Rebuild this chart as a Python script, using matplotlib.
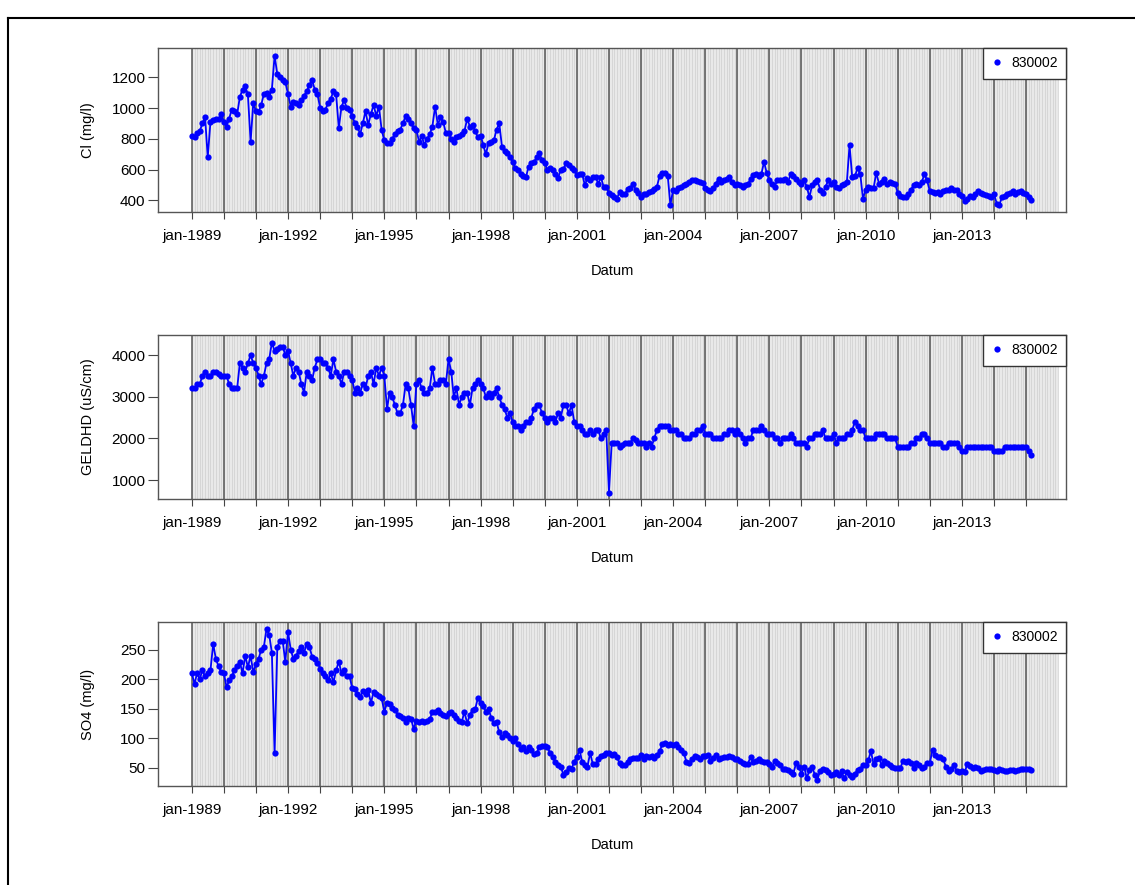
import pandas as pd
import matplotlib
matplotlib.use("Agg")
import matplotlib.pyplot as plt
import matplotlib.dates as mdates
from matplotlib.lines import Line2D

plt.rcParams["font.family"] = ["Liberation Sans", "DejaVu Sans"]

# monthly samples, jan-1989 .. mar-2015
dates = pd.date_range("1989-01-01", periods=315, freq="MS")

cl_values = (
    [820, 810, 840, 850, 900, 940, 680, 910, 920, 930, 930, 960]          # 1989
    + [910, 880, 930, 990, 980, 960, 1070, 1120, 1140, 1090, 780, 1030]   # 1990
    + [980, 975, 1020, 1090, 1100, 1070, 1120, 1340, 1220, 1200, 1180, 1170]
    + [1090, 1010, 1040, 1030, 1020, 1050, 1080, 1110, 1150, 1180, 1120, 1090]
    + [1000, 980, 990, 1030, 1060, 1110, 1090, 870, 1010, 1050, 1000, 990]
    + [950, 900, 880, 830, 900, 980, 890, 960, 1020, 950, 1010, 860]
    + [790, 770, 770, 800, 830, 850, 860, 900, 950, 930, 900, 870]      # 1995
    + [860, 780, 820, 760, 800, 830, 880, 1010, 890, 940, 910, 840]
    + [840, 800, 780, 810, 820, 830, 850, 930, 880, 890, 850, 810]
    + [820, 760, 700, 770, 780, 790, 860, 900, 750, 720, 710, 680]
    + [650, 610, 600, 570, 560, 550, 620, 640, 650, 680, 710, 660]
    + [640, 600, 610, 600, 570, 545, 600, 605, 640, 630, 610, 600]      # 2000
    + [565, 575, 575, 500, 545, 535, 550, 550, 510, 550, 490, 485]
    + [450, 435, 420, 410, 455, 445, 440, 475, 480, 510, 470, 450]
    + [420, 440, 445, 455, 460, 475, 490, 560, 580, 580, 560, 370]
    + [470, 460, 480, 490, 500, 510, 520, 530, 530, 525, 520, 515]
    + [480, 465, 460, 480, 510, 540, 520, 535, 540, 555, 520, 500]      # 2005
    + [510, 500, 490, 500, 505, 540, 565, 570, 560, 570, 650, 580]
    + [530, 510, 490, 530, 535, 530, 540, 520, 570, 560, 540, 520]
    + [510, 530, 490, 420, 500, 520, 530, 470, 450, 490, 530, 510]
    + [520, 490, 480, 500, 510, 520, 760, 550, 560, 610, 570, 410]
    + [470, 490, 480, 480, 580, 510, 520, 540, 510, 520, 515, 510]      # 2010
    + [450, 430, 425, 420, 440, 470, 500, 510, 500, 520, 570, 530]
    + [460, 455, 450, 455, 445, 460, 465, 470, 480, 470, 465, 445]
    + [430, 395, 410, 430, 420, 440, 460, 450, 440, 435, 430, 420]
    + [440, 380, 370, 420, 430, 440, 450, 460, 445, 455, 460, 450]
    + [440, 420, 400]                                                     # 2015
)

geld_values = (
    [3200, 3200, 3300, 3300, 3500, 3600, 3500, 3500, 3600, 3600, 3550, 3500]
    + [3500, 3500, 3300, 3200, 3200, 3200, 3800, 3700, 3600, 3800, 4000, 3800]
    + [3700, 3500, 3300, 3500, 3800, 3900, 4300, 4100, 4150, 4200, 4200, 4000]
    + [4100, 3800, 3500, 3700, 3600, 3300, 3100, 3600, 3500, 3400, 3700, 3900]
    + [3900, 3800, 3800, 3700, 3500, 3900, 3600, 3500, 3300, 3600, 3600, 3500]
    + [3400, 3100, 3200, 3100, 3300, 3200, 3500, 3600, 3300, 3700, 3500, 3700]
    + [3500, 2700, 3100, 3000, 2800, 2600, 2600, 2800, 3300, 3200, 2800, 2300]
    + [3300, 3400, 3200, 3100, 3100, 3200, 3700, 3300, 3300, 3400, 3400, 3300]
    + [3900, 3600, 3000, 3200, 2800, 3000, 3100, 3100, 2800, 3200, 3300, 3400]
    + [3300, 3200, 3000, 3100, 3000, 3100, 3200, 3000, 2800, 2700, 2500, 2600]
    + [2400, 2300, 2300, 2200, 2300, 2400, 2400, 2500, 2700, 2800, 2800, 2600]
    + [2500, 2400, 2500, 2500, 2400, 2600, 2500, 2800, 2800, 2600, 2800, 2400]
    + [2300, 2300, 2200, 2100, 2100, 2200, 2100, 2200, 2200, 2000, 2100, 2200]
    + [700, 1900, 1900, 1900, 1800, 1850, 1900, 1900, 1900, 2000, 1950, 1900]
    + [1900, 1900, 1800, 1900, 1800, 2000, 2200, 2300, 2300, 2300, 2300, 2200]
    + [2200, 2200, 2100, 2100, 2000, 2000, 2000, 2100, 2100, 2200, 2200, 2300]
    + [2100, 2100, 2100, 2000, 2000, 2000, 2000, 2100, 2100, 2200, 2200, 2100]
    + [2200, 2100, 2000, 1900, 2000, 2000, 2200, 2200, 2200, 2300, 2200, 2100]
    + [2100, 2100, 2000, 2000, 1900, 2000, 2000, 2000, 2100, 2000, 1900, 1900]
    + [1900, 1900, 1800, 2000, 2000, 2100, 2100, 2100, 2200, 2000, 2000, 2000]
    + [2100, 1900, 2000, 2000, 2000, 2100, 2100, 2200, 2400, 2300, 2200, 2200]
    + [2000, 2000, 2000, 2000, 2100, 2100, 2100, 2100, 2000, 2000, 2000, 2000]
    + [1800, 1800, 1800, 1800, 1800, 1900, 1900, 2000, 2000, 2100, 2100, 2000]
    + [1900, 1900, 1900, 1900, 1900, 1800, 1800, 1900, 1900, 1900, 1900, 1800]
    + [1700, 1700, 1800, 1800, 1800, 1800, 1800, 1800, 1800, 1800, 1800, 1800]
    + [1700, 1700, 1700, 1700, 1800, 1800, 1800, 1800, 1800, 1800, 1800, 1800]
    + [1800, 1700, 1600]
)

so4_values = (
    [210, 192, 210, 200, 215, 205, 210, 215, 260, 235, 222, 212]
    + [210, 186, 198, 205, 215, 222, 230, 210, 240, 220, 240, 212]
    + [225, 235, 250, 255, 285, 275, 245, 75, 255, 265, 265, 230]
    + [280, 250, 235, 240, 248, 255, 245, 260, 255, 238, 235, 228]
    + [218, 210, 205, 198, 210, 195, 215, 230, 210, 215, 205, 205]
    + [185, 183, 175, 170, 180, 175, 182, 160, 178, 175, 172, 168]
    + [145, 160, 158, 152, 148, 140, 138, 135, 128, 135, 133, 116]
    + [130, 127, 130, 128, 130, 132, 145, 145, 148, 142, 140, 138]
    + [142, 145, 140, 135, 130, 128, 145, 125, 140, 148, 150, 168]
    + [160, 155, 145, 150, 135, 125, 128, 110, 102, 108, 105, 100]
    + [95, 100, 90, 82, 85, 78, 85, 80, 73, 75, 85, 87]
    + [87, 85, 75, 68, 60, 55, 52, 38, 42, 50, 48, 60]
    + [69, 80, 60, 55, 52, 75, 56, 56, 65, 70, 72, 75]
    + [75, 72, 73, 68, 58, 54, 55, 60, 65, 67, 66, 67]
    + [72, 64, 70, 68, 70, 66, 72, 78, 90, 92, 88, 90]
    + [88, 90, 85, 80, 75, 60, 58, 65, 70, 68, 65, 70]
    + [70, 72, 62, 66, 72, 64, 66, 68, 68, 70, 68, 65]
    + [65, 62, 58, 57, 57, 68, 60, 62, 65, 62, 60, 60]
    + [57, 52, 62, 58, 55, 47, 48, 46, 42, 40, 58, 52]
    + [40, 52, 32, 46, 52, 38, 30, 45, 48, 46, 42, 38]
    + [40, 43, 38, 44, 32, 42, 38, 35, 40, 46, 48, 55]
    + [55, 63, 78, 56, 65, 66, 55, 62, 58, 55, 52, 50]
    + [50, 49, 62, 60, 62, 58, 50, 58, 54, 50, 52, 58]
    + [58, 80, 72, 68, 68, 65, 52, 44, 48, 55, 45, 43]
    + [44, 42, 56, 53, 50, 52, 50, 44, 46, 48, 48, 48]
    + [46, 44, 48, 46, 45, 44, 46, 46, 44, 46, 48, 48]
    + [48, 47, 46]
)

panels = [
    ("Cl (mg/l)", cl_values, [400, 600, 800, 1000, 1200], (325, 1390)),
    ("GELDHD (uS/cm)", geld_values, [1000, 2000, 3000, 4000], (545, 4480)),
    ("SO4 (mg/l)", so4_values, [50, 100, 150, 200, 250], (19, 297)),
]
station = "830002"
label_years = list(range(1989, 2014, 3))

fig = plt.figure(figsize=(11.35, 8.85), dpi=100)

# page frame (top and left border of the document)
fig.add_artist(Line2D([8 / 1135, 1], [1 - 18 / 885, 1 - 18 / 885], color="black", lw=1.5))
fig.add_artist(Line2D([8 / 1135, 8 / 1135], [0, 1 - 18 / 885], color="black", lw=1.5))

tops = [48, 335, 622]
months = pd.date_range("1989-01-01", "2016-01-01", freq="MS")
years = pd.date_range("1989-01-01", "2015-01-01", freq="YS")

for (ylab, values, yticks, ylim), top in zip(panels, tops):
    ax = fig.add_axes([158 / 1135, 1 - (top + 164) / 885, 908 / 1135, 164 / 885])

    # grey background with a light line per month and a dark line per year
    ax.axvspan(months[0], months[-1], color="#e9e9e9", lw=0, zorder=0)
    for m in months:
        ax.axvline(m, color="#cfcfcf", lw=0.5, zorder=1)
    for y in years:
        ax.axvline(y, color="#555555", lw=1.1, zorder=2)

    ax.plot(dates, values, color="blue", lw=1.3, zorder=3)
    ax.plot(dates, values, "o", color="blue", ms=4.5, mew=0, zorder=4, label=station)

    ax.set_xlim(pd.Timestamp("1987-12-13"), pd.Timestamp("2016-03-30"))
    ax.set_ylim(*ylim)
    ax.set_yticks(yticks)

    ax.xaxis.set_major_formatter(
        plt.FuncFormatter(
            lambda v, pos: ("jan-%d" % mdates.num2date(v).year)
            if mdates.num2date(v).year in label_years else ""
        )
    )
    ax.set_xticks(years)

    ax.tick_params(axis="x", length=5, pad=7, labelsize=11, color="#444444")
    ax.tick_params(axis="y", length=7, pad=2, labelsize=11, color="#444444")
    for s in ax.spines.values():
        s.set_color("#555555")
        s.set_linewidth(1.0)

    ax.set_ylabel(ylab, fontsize=10.5)
    ax.yaxis.set_label_coords(-0.069, 0.5)
    ax.set_xlabel("Datum", fontsize=10.5)
    ax.xaxis.set_label_coords(0.5, -0.32)

    leg = ax.legend(loc="upper right", borderaxespad=0, fancybox=False,
                    edgecolor="#333333", framealpha=1, fontsize=10,
                    handlelength=0.8, handletextpad=0.6, borderpad=0.6,
                    markerscale=1.0)
    leg.get_frame().set_linewidth(1.0)

fig.savefig("out.png", dpi=100)
